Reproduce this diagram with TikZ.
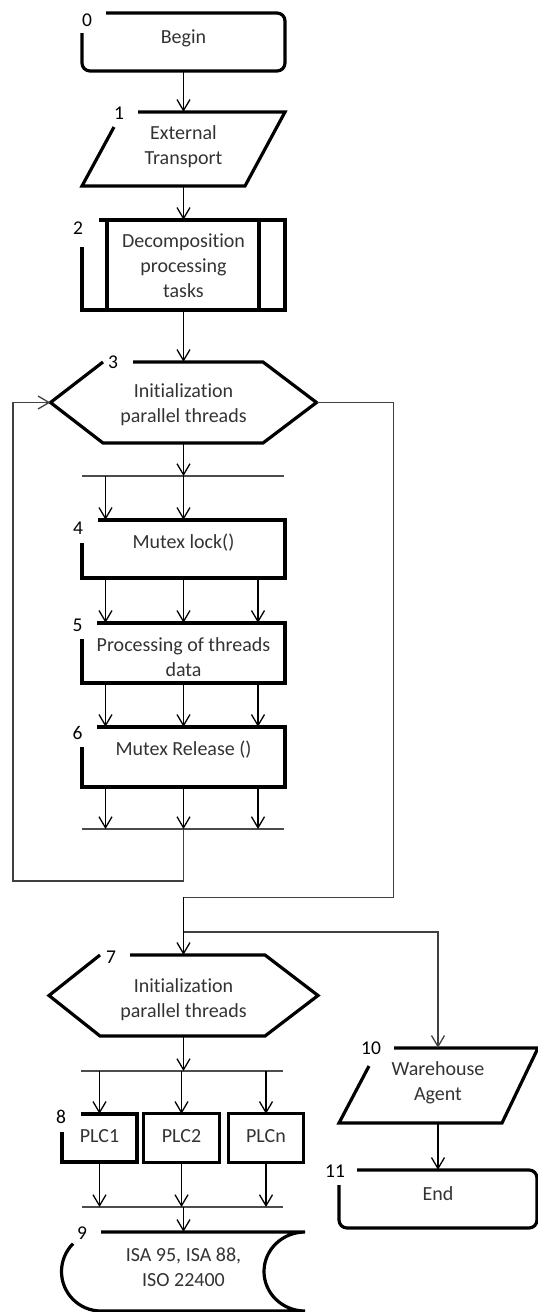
\documentclass[tikz,border=0pt]{standalone}
\usepackage{fontspec}
\setmainfont{Carlito}[Ligatures=NoCommon]
\usetikzlibrary{arrows.meta}

\begin{document}
\begin{tikzpicture}[
        x=1pt, y=-1pt,
        flow/.style={
            draw=none,
            inner sep=0pt,
            align=center,
            text=black!80,
            font=\fontsize{20}{25}\selectfont
        },
        num/.style={inner sep=0pt, font=\fontsize{19.5}{25}\selectfont},
        outl/.style={line width=3.2pt},
        arr/.style={line width=1.3pt, -{Straight Barb[length=11pt,width=13pt]}},
        loopl/.style={line width=1pt, black!75},
        bar/.style={line width=1.1pt, black!70}
    ]
    \useasboundingbox (0,0) rectangle (538,1312);

    % Nodos
    \node[flow, minimum width=203pt, text height=30pt, text depth=28pt] (n0) at (183.5,42) {Begin};
    \node[flow, minimum width=203pt, text height=52pt, text depth=22pt] (n1) at (183.5,149) {External\\Transport};
    \node[flow, minimum width=203pt, text height=77pt, text depth=13pt] (n2) at (183.5,265) {Decomposition\\processing\\tasks};
    \node[flow, minimum width=266pt, text height=60pt, text depth=21pt] (n3) at (183.5,402.5) {Initialization\\parallel threads};
    \node[flow, minimum width=203pt, text height=28pt, text depth=30pt] (n4) at (183.5,549) {Mutex lock()};
    \node[flow, minimum width=203pt, text height=53pt, text depth=7pt] (n5) at (183.5,653) {Processing of threads\\data};
    \node[flow, minimum width=203pt, text height=28pt, text depth=32pt] (n6) at (183.5,757) {Mutex Release ()};
    \node[flow, minimum width=269pt, text height=62pt, text depth=19pt] (n7) at (183.5,995.5) {Initialization\\parallel threads};
    \node[flow, minimum width=75pt, text height=28pt, text depth=20pt] (p1) at (99.5,1138) {PLC1};
    \node[flow, minimum width=75pt, text height=28pt, text depth=20pt] (p2) at (181.5,1138) {PLC2};
    \node[flow, minimum width=74pt, text height=28pt, text depth=20pt] (p3) at (266,1138) {PLCn};
    \node[flow, minimum width=243pt, text height=54pt, text depth=25pt] (n9) at (183.5,1271.5) {ISA 95, ISA 88,\\ISO 22400};
    \node[flow, minimum width=198pt, text height=52pt, text depth=23pt] (n10) at (438,1085.5) {Warehouse\\Agent};
    \node[flow, minimum width=198pt, text height=30pt, text depth=28pt] (n11) at (438,1199) {End};

    % Numeros
    \node[num] (k0) at (87,20) {0};
    \node[num] (k1) at (119,113) {1};
    \node[num] (k2) at (78,228) {2};
    \node[num] (k3) at (113,362) {3};
    \node[num] (k4) at (78,528) {4};
    \node[num] (k5) at (77.5,625) {5};
    \node[num] (k6) at (77.5,733) {6};
    \node[num] (k7) at (111,957) {7};
    \node[num] (k8) at (61,1117) {8};
    \node[num] (k9) at (82,1233) {9};
    \node[num] (k10) at (371,1048) {10};
    \node[num] (k11) at (335,1171) {11};

    % Contornos
    \draw[outl, rounded corners=8pt] (82,33) -- (82,71) -- (285,71) -- (285,13) -- (106,13);
    \draw[outl] (114,127) -- (82,186) -- (245,186) -- (285,112) -- (138,112);
    \draw[outl] (82,247) -- (82,310) -- (285,310) -- (285,220) -- (99,220);
    \draw[outl] (107,220) -- (107,310) (259,220) -- (259,310);
    \draw[outl] (133,362) -- (263,362) -- (316.5,402.5) -- (263,443) -- (103,443) -- (50.5,402.5) -- (103,362);
    \draw[outl] (82,543) -- (82,578) -- (285,578) -- (285,520) -- (98,520);
    \draw[outl] (82,639) -- (82,683) -- (285,683) -- (285,623) -- (97,623);
    \draw[outl] (82,747) -- (82,787) -- (285,787) -- (285,727) -- (97,727);
    \draw[outl] (130,955) -- (265,955) -- (318,995.5) -- (265,1036) -- (100,1036) -- (49,995.5) -- (100,955);
    \draw[outl] (62,1132) -- (62,1162) -- (137,1162) -- (137,1114) -- (81,1114);
    \draw[outl] (p2.north west) rectangle (p2.south east);
    \draw[outl] (p3.north west) rectangle (p3.south east);
    \draw[outl] (101,1232) -- (305,1232)
        .. controls (282.4,1232) and (264,1249.7) .. (264,1271.5)
        .. controls (264,1293.3) and (282.4,1311) .. (305,1311) -- (101,1311)
        .. controls (79.2,1311) and (61.5,1293.3) .. (61.5,1271.5)
        .. controls (61.5,1261) and (65.7,1251) .. (73.1,1243.6);
    \draw[outl] (369,1066) -- (339,1123) -- (502,1123) -- (538,1048) -- (394,1048);
    \draw[outl, rounded corners=8pt] (339,1185) -- (339,1228) -- (537,1228) -- (537,1170) -- (357,1170);

    % Barras
    \coordinate (b1w) at (82,476);
    \coordinate (b1e) at (284,476);
    \coordinate (b2w) at (82,829);
    \coordinate (b2e) at (284,829);
    \coordinate (b3w) at (81,1071);
    \coordinate (b3e) at (283,1071);
    \coordinate (b4w) at (82,1207);
    \coordinate (b4e) at (283,1207);
    \coordinate (c1) at (105.5,0);
    \coordinate (c3) at (258,0);
    \coordinate (lp) at (13,881);
    \coordinate (rp) at (393,897);
    \coordinate (j2) at (183.5,932);
    \draw[bar] (b1w) -- (b1e);
    \draw[bar] (b2w) -- (b2e);
    \draw[bar] (b3w) -- (b3e);
    \draw[bar] (b4w) -- (b4e);

    % Flechas
    \draw[arr] (n0) -- (n1);
    \draw[arr] (n1) -- (n2);
    \draw[arr] (n2) -- (n3);
    \draw[arr] (n3) -- (n3 |- b1w);
    \draw[arr] (b1w -| c1) -- (n4.north -| c1);
    \draw[arr] (n3 |- b1w) -- (n4);
    \draw[arr] (n4.south -| c1) -- (n5.north -| c1);
    \draw[arr] (n4) -- (n5);
    \draw[arr] (n4.south -| c3) -- (n5.north -| c3);
    \draw[arr] (n5.south -| c1) -- (n6.north -| c1);
    \draw[arr] (n5) -- (n6);
    \draw[arr] (n5.south -| c3) -- (n6.north -| c3);
    \draw[arr] (n6.south -| c1) -- (b2w -| c1);
    \draw[arr] (n6) -- (n6 |- b2w);
    \draw[arr] (n6.south -| c3) -- (b2w -| c3);
    \draw[loopl, arr] (n6 |- b2w) |- (lp) |- (n3.west);
    \draw[loopl] (n3.east) -| (rp) -- (rp -| n7);
    \draw[arr] (rp -| n7) -- (n7);
    \draw[loopl, arr] (j2) -| (n10);
    \draw[arr] (n10) -- (n11);
    \draw[arr] (n7) -- (n7 |- b3w);
    \draw[arr] (b3w -| p1) -- (p1);
    \draw[arr] (b3w -| p2) -- (p2);
    \draw[arr] (b3w -| p3) -- (p3);
    \draw[arr] (p1) -- (p1 |- b4w);
    \draw[arr] (p2) -- (p2 |- b4w);
    \draw[arr] (p3) -- (p3 |- b4w);
    \draw[arr] (n7 |- b4w) -- (n9);

    \end{tikzpicture}
\end{document}
